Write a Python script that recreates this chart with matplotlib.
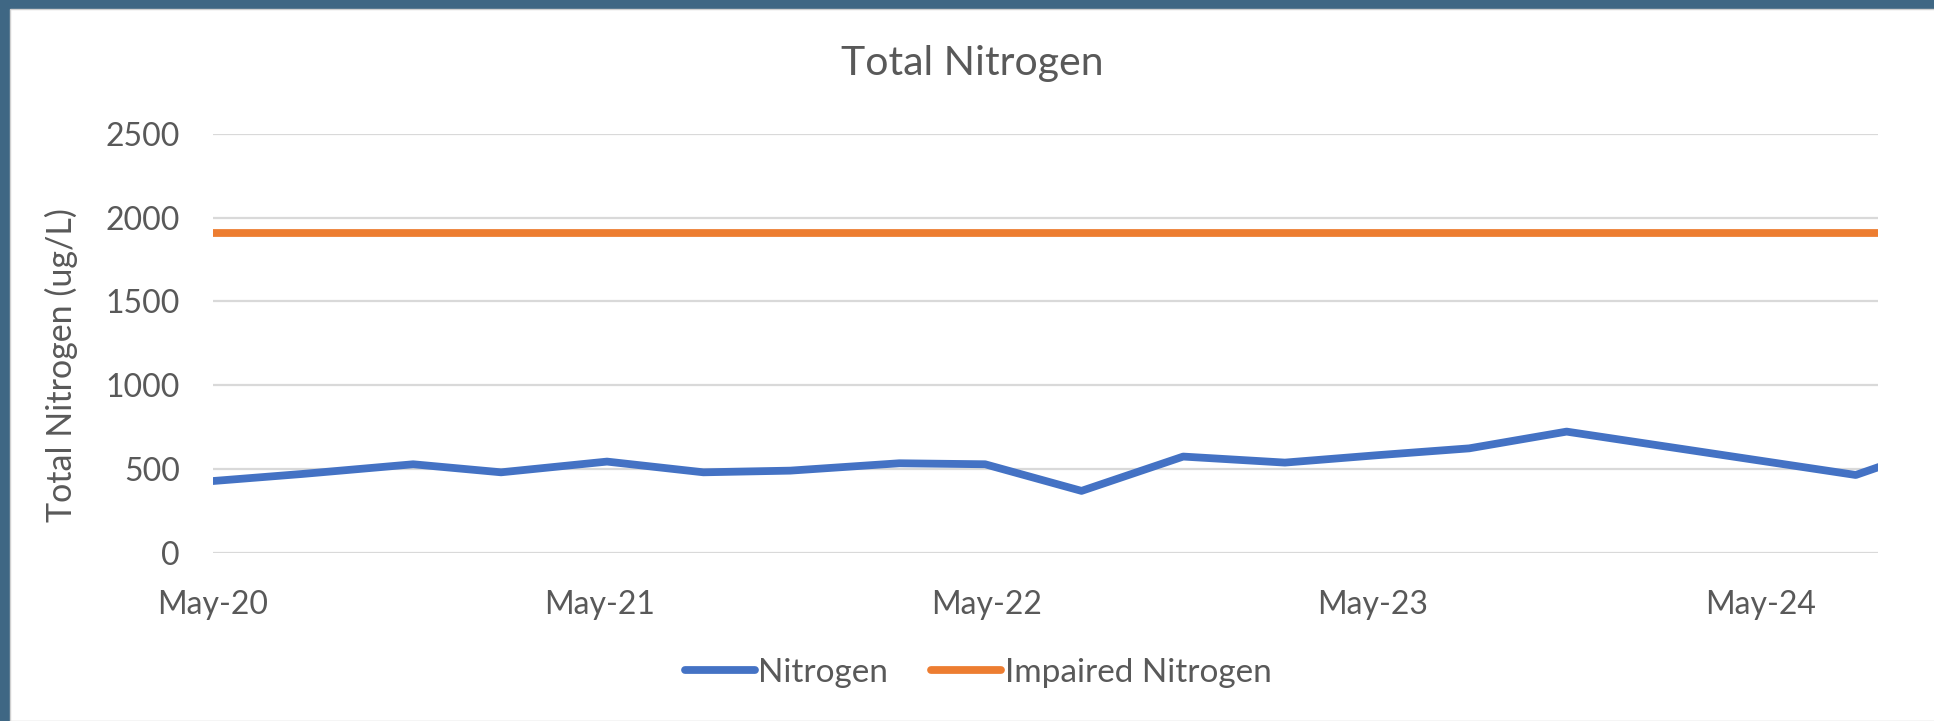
import numpy as np
import pandas as pd
import matplotlib
matplotlib.use("Agg")
import matplotlib.pyplot as plt
from matplotlib.patches import Rectangle

# sample dates and values
tanggal = pd.to_datetime([
    "2020-05-15", "2020-08-07", "2020-11-20", "2021-02-11", "2021-05-22",
    "2021-08-21", "2021-11-11", "2022-02-22", "2022-05-14", "2022-08-13",
    "2022-11-17", "2023-02-21", "2023-05-19", "2023-08-14", "2023-11-14",
    "2024-08-13", "2024-09-03",
])
nitrogen = [428, 470, 528, 480, 544, 480, 490, 534, 528, 369,
            574, 538, 582, 623, 723, 464, 510]
batas_impaired = 1910
impaired = [batas_impaired] * len(tanggal)

tick_tanggal = pd.to_datetime(["2020-05-15", "2021-05-15", "2022-05-15",
                               "2023-05-15", "2024-05-15"])
tick_label = ["May-20", "May-21", "May-22", "May-23", "May-24"]

plt.rcParams['font.family'] = ['Lato', 'DejaVu Sans']
abu = '#595959'

fig = plt.figure(figsize=(19.34, 7.21), dpi=100)
fig.patch.set_facecolor('#3f6784')
# white chart card (screenshot edge on left and top)
fig.patches.append(Rectangle((10 / 1934, 0), 1, 1 - 9 / 721,
                             transform=fig.transFigure, facecolor='white',
                             edgecolor='#d0d0d0', lw=1, zorder=-5))

ax = fig.add_axes([213 / 1934, 1 - 552.7 / 721, (1878 - 213) / 1934, (552.7 - 134) / 721])
ax.set_facecolor('none')

ax.plot(tanggal, nitrogen, color='#4472C4', lw=5.6, label='Nitrogen',
        solid_joinstyle='round', zorder=3)
ax.plot(tanggal, impaired, color='#ED7D31', lw=5.6, label='Impaired Nitrogen', zorder=3)

ax.set_ylim(0, 2500)
ax.set_yticks(np.arange(0, 2501, 500))
ax.set_xlim(tanggal[0], tanggal[-1])
ax.set_xticks(tick_tanggal)
ax.set_xticklabels(tick_label)

ax.grid(axis='y', color='#d9d9d9', lw=1.6)
ax.set_axisbelow(True)
for s in ax.spines.values():
    s.set_visible(False)
ax.tick_params(length=0, labelsize=23, labelcolor=abu)
ax.tick_params(axis='y', pad=24)
ax.tick_params(axis='x', pad=27)

# judul sumbu y, agak ke bawah seperti di Excel
fig.text(61 / 1934, 1 - 365 / 721, 'Total Nitrogen (ug/L)', fontsize=24.5, color=abu,
         rotation=90, ha='center', va='center')
fig.text(972 / 1934, 1 - 64 / 721, 'Total Nitrogen', fontsize=29.5, color=abu,
         ha='center', va='center')

leg = fig.legend(loc='center', bbox_to_anchor=(978 / 1934, 1 - 673 / 721), ncol=2,
                 frameon=False, fontsize=24, handlelength=2.1, handletextpad=0.1,
                 columnspacing=1.3)
for t in leg.get_texts():
    t.set_color(abu)
for h in leg.get_lines():
    h.set_solid_capstyle('round')

fig.savefig('out.png', dpi=100, facecolor=fig.get_facecolor())
